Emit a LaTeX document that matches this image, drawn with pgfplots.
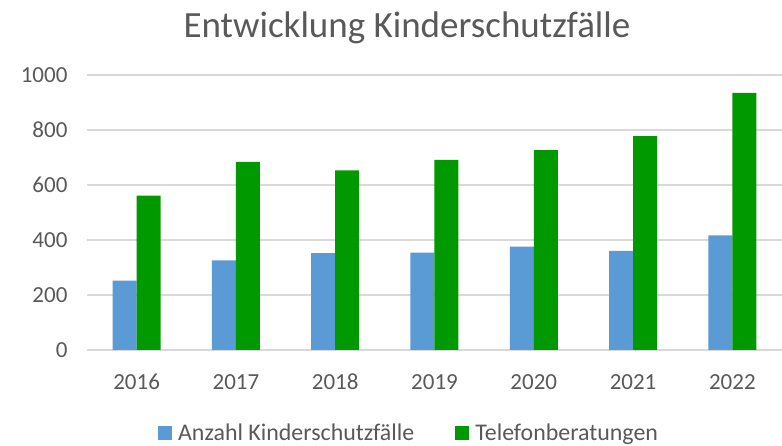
\documentclass[border=0pt]{standalone}
\usepackage{fontspec}
\setmainfont{Carlito}
\usepackage{pgfplots}
\pgfplotsset{compat=1.18}
\definecolor{txt}{HTML}{595959}
\definecolor{cblue}{HTML}{5B9BD5}
\definecolor{cgreen}{HTML}{009900}
\definecolor{gridc}{HTML}{D9D9D9}
\begin{document}
\begin{tikzpicture}
\node[text=txt, font=\fontsize{37}{44}\selectfont, anchor=base, inner sep=0pt] at (407pt,408pt) {Entwicklung Kinderschutzfälle};
\begin{axis}[
  at={(87pt,96pt)}, anchor=south west, scale only axis,
  width=695pt, height=275pt,
  ymin=0, ymax=1000, xmin=-0.5, xmax=6.5,
  ytick={0,200,...,1000},
  xtick={0,...,6}, xticklabels={2016,2017,2018,2019,2020,2021,2022},
  ybar=0pt, bar width=24pt,
  axis line style={draw=none},
  major tick length=0pt,
  ymajorgrids, grid style={gridc, line width=1.2pt},
  tick label style={text=txt, font=\fontsize{23}{28}\selectfont},
  /pgf/number format/assume math mode=true,
  /pgf/number format/1000 sep={},
  yticklabel style={xshift=-16pt},
  xticklabel style={anchor=base, yshift=-40pt},
  legend style={at={(0.462,-0.3345)}, anchor=south, draw=none, inner sep=0pt,
    font=\fontsize{23.9}{28}\selectfont, text=txt,
    nodes={inner sep=0pt},
    /tikz/every odd column/.append style={column sep=6pt},
    /tikz/every even column/.append style={column sep=41pt}},
  legend columns=2,
  legend image code/.code={\fill[#1] (0pt,-7pt) rectangle (14pt,7pt);},
]
\addplot[fill=cblue, draw=none] coordinates {(0,252) (1,326) (2,352) (3,354) (4,376) (5,360) (6,417)};
\addplot[fill=cgreen, draw=none] coordinates {(0,561) (1,684) (2,653) (3,691) (4,727) (5,778) (6,935)};
\legend{Anzahl Kinderschutzfälle, Telefonberatungen}
\end{axis}
\pgfresetboundingbox
\path (0pt,0pt) rectangle (782pt,446pt);
\end{tikzpicture}
\end{document}
